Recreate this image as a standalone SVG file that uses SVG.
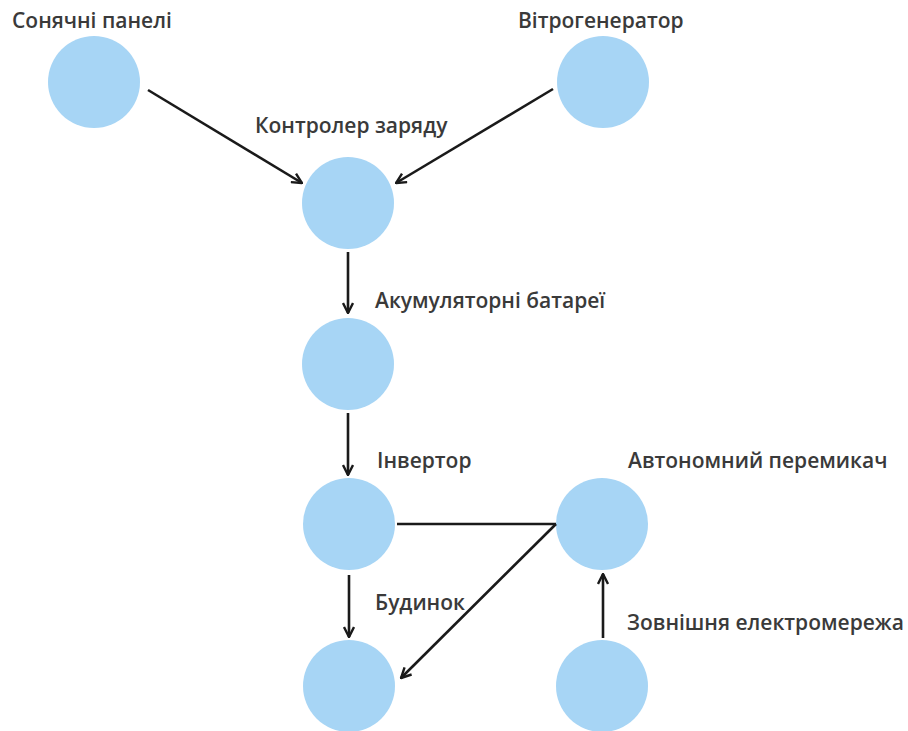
<svg xmlns="http://www.w3.org/2000/svg" width="908" height="731" viewBox="0 0 908 731">
<defs>
<style>
.node circle{fill:#a7d5f5}
.node text{font-family:"Open Sans","Noto Sans","DejaVu Sans",sans-serif;font-size:21px;font-weight:600;fill:#3a3a3a}
.conn line,.conn path{stroke:#1a1a1a;stroke-width:2.6;fill:none}
</style>
<marker id="arr" viewBox="0 0 12 12" refX="11" refY="6" markerWidth="12" markerHeight="12" markerUnits="userSpaceOnUse" orient="auto">
<path d="M1,1 L11,6 L1,11" fill="none" stroke="#1a1a1a" stroke-width="2.4"/>
</marker>
</defs>
<rect width="908" height="731" fill="#fff"/>
<g id="solar" class="node"><circle cx="94" cy="82" r="46"/><text x="12" y="28">Сонячні панелі</text></g>
<g id="wind" class="node"><circle cx="603" cy="82" r="46"/><text x="518" y="28">Вітрогенератор</text></g>
<g id="controller" class="node"><circle cx="348" cy="203" r="46"/><text x="255" y="133">Контролер заряду</text></g>
<g id="battery" class="node"><circle cx="348" cy="364" r="46"/><text x="375" y="308">Акумуляторні батареї</text></g>
<g id="inverter" class="node"><circle cx="349" cy="524" r="46"/><text x="377" y="468">Інвертор</text></g>
<g id="switch" class="node"><circle cx="602" cy="524" r="46"/><text x="628" y="468">Автономний перемикач</text></g>
<g id="house" class="node"><circle cx="349" cy="686" r="46"/><text x="375" y="610">Будинок</text></g>
<g id="grid" class="node"><circle cx="602" cy="686" r="46"/><text x="627" y="630">Зовнішня електромережа</text></g>
<g id="connectors" class="conn">
<line x1="148" y1="90" x2="302" y2="183" marker-end="url(#arr)"/>
<line x1="553" y1="89" x2="396" y2="183" marker-end="url(#arr)"/>
<line x1="348" y1="252" x2="348" y2="313" marker-end="url(#arr)"/>
<line x1="348" y1="413" x2="348" y2="475" marker-end="url(#arr)"/>
<line x1="349" y1="575" x2="349" y2="637" marker-end="url(#arr)"/>
<line x1="603" y1="638" x2="603" y2="574" marker-end="url(#arr)"/>
<line x1="397" y1="524" x2="556" y2="524"/>
<line x1="556" y1="524" x2="401" y2="678" marker-end="url(#arr)"/>
</g>
</svg>
